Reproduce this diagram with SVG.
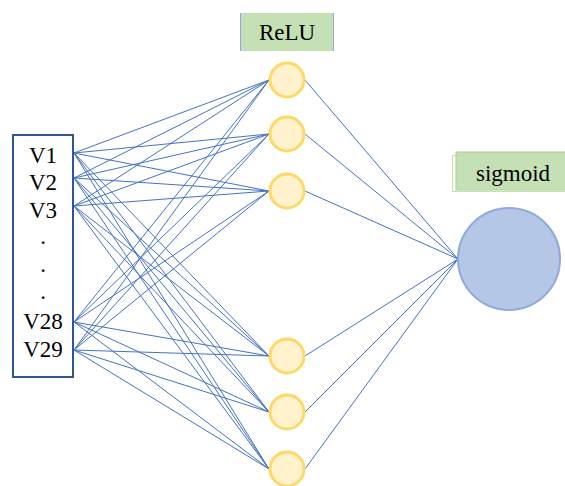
<svg xmlns="http://www.w3.org/2000/svg" width="565" height="486" viewBox="0 0 565 486">
<style>
text{font-family:'Liberation Serif','Times New Roman',serif;font-size:23px;fill:#000}
.c line{stroke:#4472C4;stroke-width:1}
.h{fill:#FFF2CC;stroke:#FFD966;stroke-width:3}
</style>
<rect width="565" height="486" fill="#fff"/>
<g class="c" id="connectors">
<line x1="74" y1="153" x2="269" y2="80"/><line x1="74" y1="153" x2="269" y2="134"/><line x1="74" y1="153" x2="269" y2="191"/><line x1="74" y1="153" x2="269" y2="356"/><line x1="74" y1="153" x2="269" y2="412"/><line x1="74" y1="153" x2="269" y2="469"/>
<line x1="74" y1="178" x2="269" y2="80"/><line x1="74" y1="178" x2="269" y2="134"/><line x1="74" y1="178" x2="269" y2="191"/><line x1="74" y1="178" x2="269" y2="356"/><line x1="74" y1="178" x2="269" y2="412"/><line x1="74" y1="178" x2="269" y2="469"/>
<line x1="74" y1="206" x2="269" y2="80"/><line x1="74" y1="206" x2="269" y2="134"/><line x1="74" y1="206" x2="269" y2="191"/><line x1="74" y1="206" x2="269" y2="356"/><line x1="74" y1="206" x2="269" y2="412"/><line x1="74" y1="206" x2="269" y2="469"/>
<line x1="74" y1="322" x2="269" y2="80"/><line x1="74" y1="322" x2="269" y2="134"/><line x1="74" y1="322" x2="269" y2="191"/><line x1="74" y1="322" x2="269" y2="356"/><line x1="74" y1="322" x2="269" y2="412"/><line x1="74" y1="322" x2="269" y2="469"/>
<line x1="74" y1="350" x2="269" y2="80"/><line x1="74" y1="350" x2="269" y2="134"/><line x1="74" y1="350" x2="269" y2="191"/><line x1="74" y1="350" x2="269" y2="356"/><line x1="74" y1="350" x2="269" y2="412"/><line x1="74" y1="350" x2="269" y2="469"/>
<line x1="305" y1="80" x2="458" y2="259"/><line x1="305" y1="134" x2="458" y2="259"/><line x1="305" y1="191" x2="458" y2="259"/><line x1="305" y1="356" x2="458" y2="259"/><line x1="305" y1="412" x2="458" y2="259"/><line x1="305" y1="469" x2="458" y2="259"/>
</g>
<g id="inputs">
<rect x="13" y="135" width="60" height="242" fill="#fff" stroke="#2F5597" stroke-width="2"/>
<text x="43" y="163" text-anchor="middle">V1</text>
<text x="43" y="190" text-anchor="middle">V2</text>
<text x="43" y="218" text-anchor="middle">V3</text>
<text x="43" y="244" text-anchor="middle">.</text>
<text x="43" y="272" text-anchor="middle">.</text>
<text x="43" y="299" text-anchor="middle">.</text>
<text x="43" y="329" text-anchor="middle">V28</text>
<text x="43" y="357" text-anchor="middle">V29</text>
</g>
<g id="relu-label">
<rect x="240" y="13" width="94" height="38" fill="#C5E0B4"/>
<line x1="240.5" y1="13" x2="240.5" y2="51" stroke="#8FAADC" stroke-width="1"/>
<line x1="333.5" y1="13" x2="333.5" y2="51" stroke="#8FAADC" stroke-width="1"/>
<text x="287" y="40" text-anchor="middle">ReLU</text>
</g>
<g id="h1"><circle class="h" cx="287" cy="80" r="17"/></g>
<g id="h2"><circle class="h" cx="287" cy="134" r="17"/></g>
<g id="h3"><circle class="h" cx="287" cy="191" r="17"/></g>
<g id="h4"><circle class="h" cx="287" cy="356" r="17"/></g>
<g id="h5"><circle class="h" cx="287" cy="412" r="17"/></g>
<g id="h6"><circle class="h" cx="287" cy="469" r="17"/></g>
<g id="sigmoid-label">
<rect x="452.5" y="155.5" width="120" height="36" fill="none" stroke="#C5E0B4" stroke-width="1"/>
<rect x="456" y="152" width="115" height="38" fill="#C5E0B4" stroke="#A9D18E" stroke-width="1"/>
<text x="513" y="181" text-anchor="middle">sigmoid</text>
</g>
<g id="output"><circle cx="509" cy="259" r="51" fill="#B4C7E7" stroke="#8FAADC" stroke-width="2"/></g>
</svg>
